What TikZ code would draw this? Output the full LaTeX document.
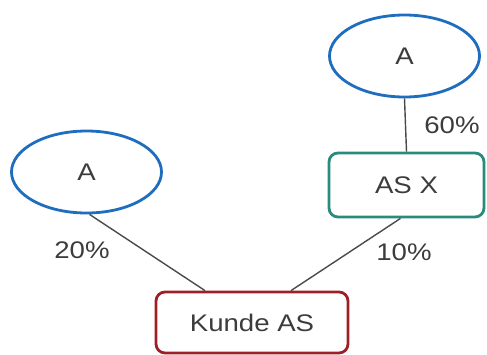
\documentclass[tikz,border=0pt]{standalone}
\usepackage{fontspec}
\setmainfont[FakeStretch=1.15]{Liberation Sans}
\usetikzlibrary{shapes.geometric}
\definecolor{ellblue}{HTML}{1F6DBE}
\definecolor{boxteal}{HTML}{2A8A7C}
\definecolor{boxred}{HTML}{9E1F28}
\definecolor{txtgray}{HTML}{3C3C3C}
\definecolor{linegray}{HTML}{4A4A4A}
\tikzset{
  x=1pt, y=-1pt,
  owner/.style={ellipse, draw=ellblue, line width=2.8pt, minimum width=150pt, minimum height=82pt, inner sep=0pt, text=txtgray, font=\fontsize{24}{27}\selectfont},
  company/.style={rectangle, rounded corners=9pt, line width=2.8pt, inner sep=0pt, text=txtgray, font=\fontsize{24}{27}\selectfont},
  share/.style={text=txtgray, font=\fontsize{24}{27}\selectfont, inner sep=0pt},
  link/.style={draw=linegray, line width=1.4pt}
}
\begin{document}
\begin{tikzpicture}
\useasboundingbox (0,0) rectangle (487,354);
\node[owner] (topA) at (404.5,56) {A};
\node[owner] (leftA) at (86.5,172) {A};
\node[company, draw=boxteal, minimum width=155pt, minimum height=64pt] (asx) at (406.5,185) {AS X};
\node[company, draw=boxred, minimum width=192pt, minimum height=61pt] (kunde) at (252,322.5) {Kunde AS};
\coordinate (kl) at (kunde.north -| 205,0);
\coordinate (kr) at (kunde.north -| 291,0);
\draw[link] (topA.south) -- (asx.north);
\draw[link] (leftA.south) ++(3,0) -- (kl);
\draw[link] (asx.south) ++(-6,0) -- (kr);
\node[share] (p60) at (452,125) {60\%};
\node[share] (p20) at (82,250) {20\%};
\node[share] (p10) at (404,252) {10\%};
\end{tikzpicture}
\end{document}
